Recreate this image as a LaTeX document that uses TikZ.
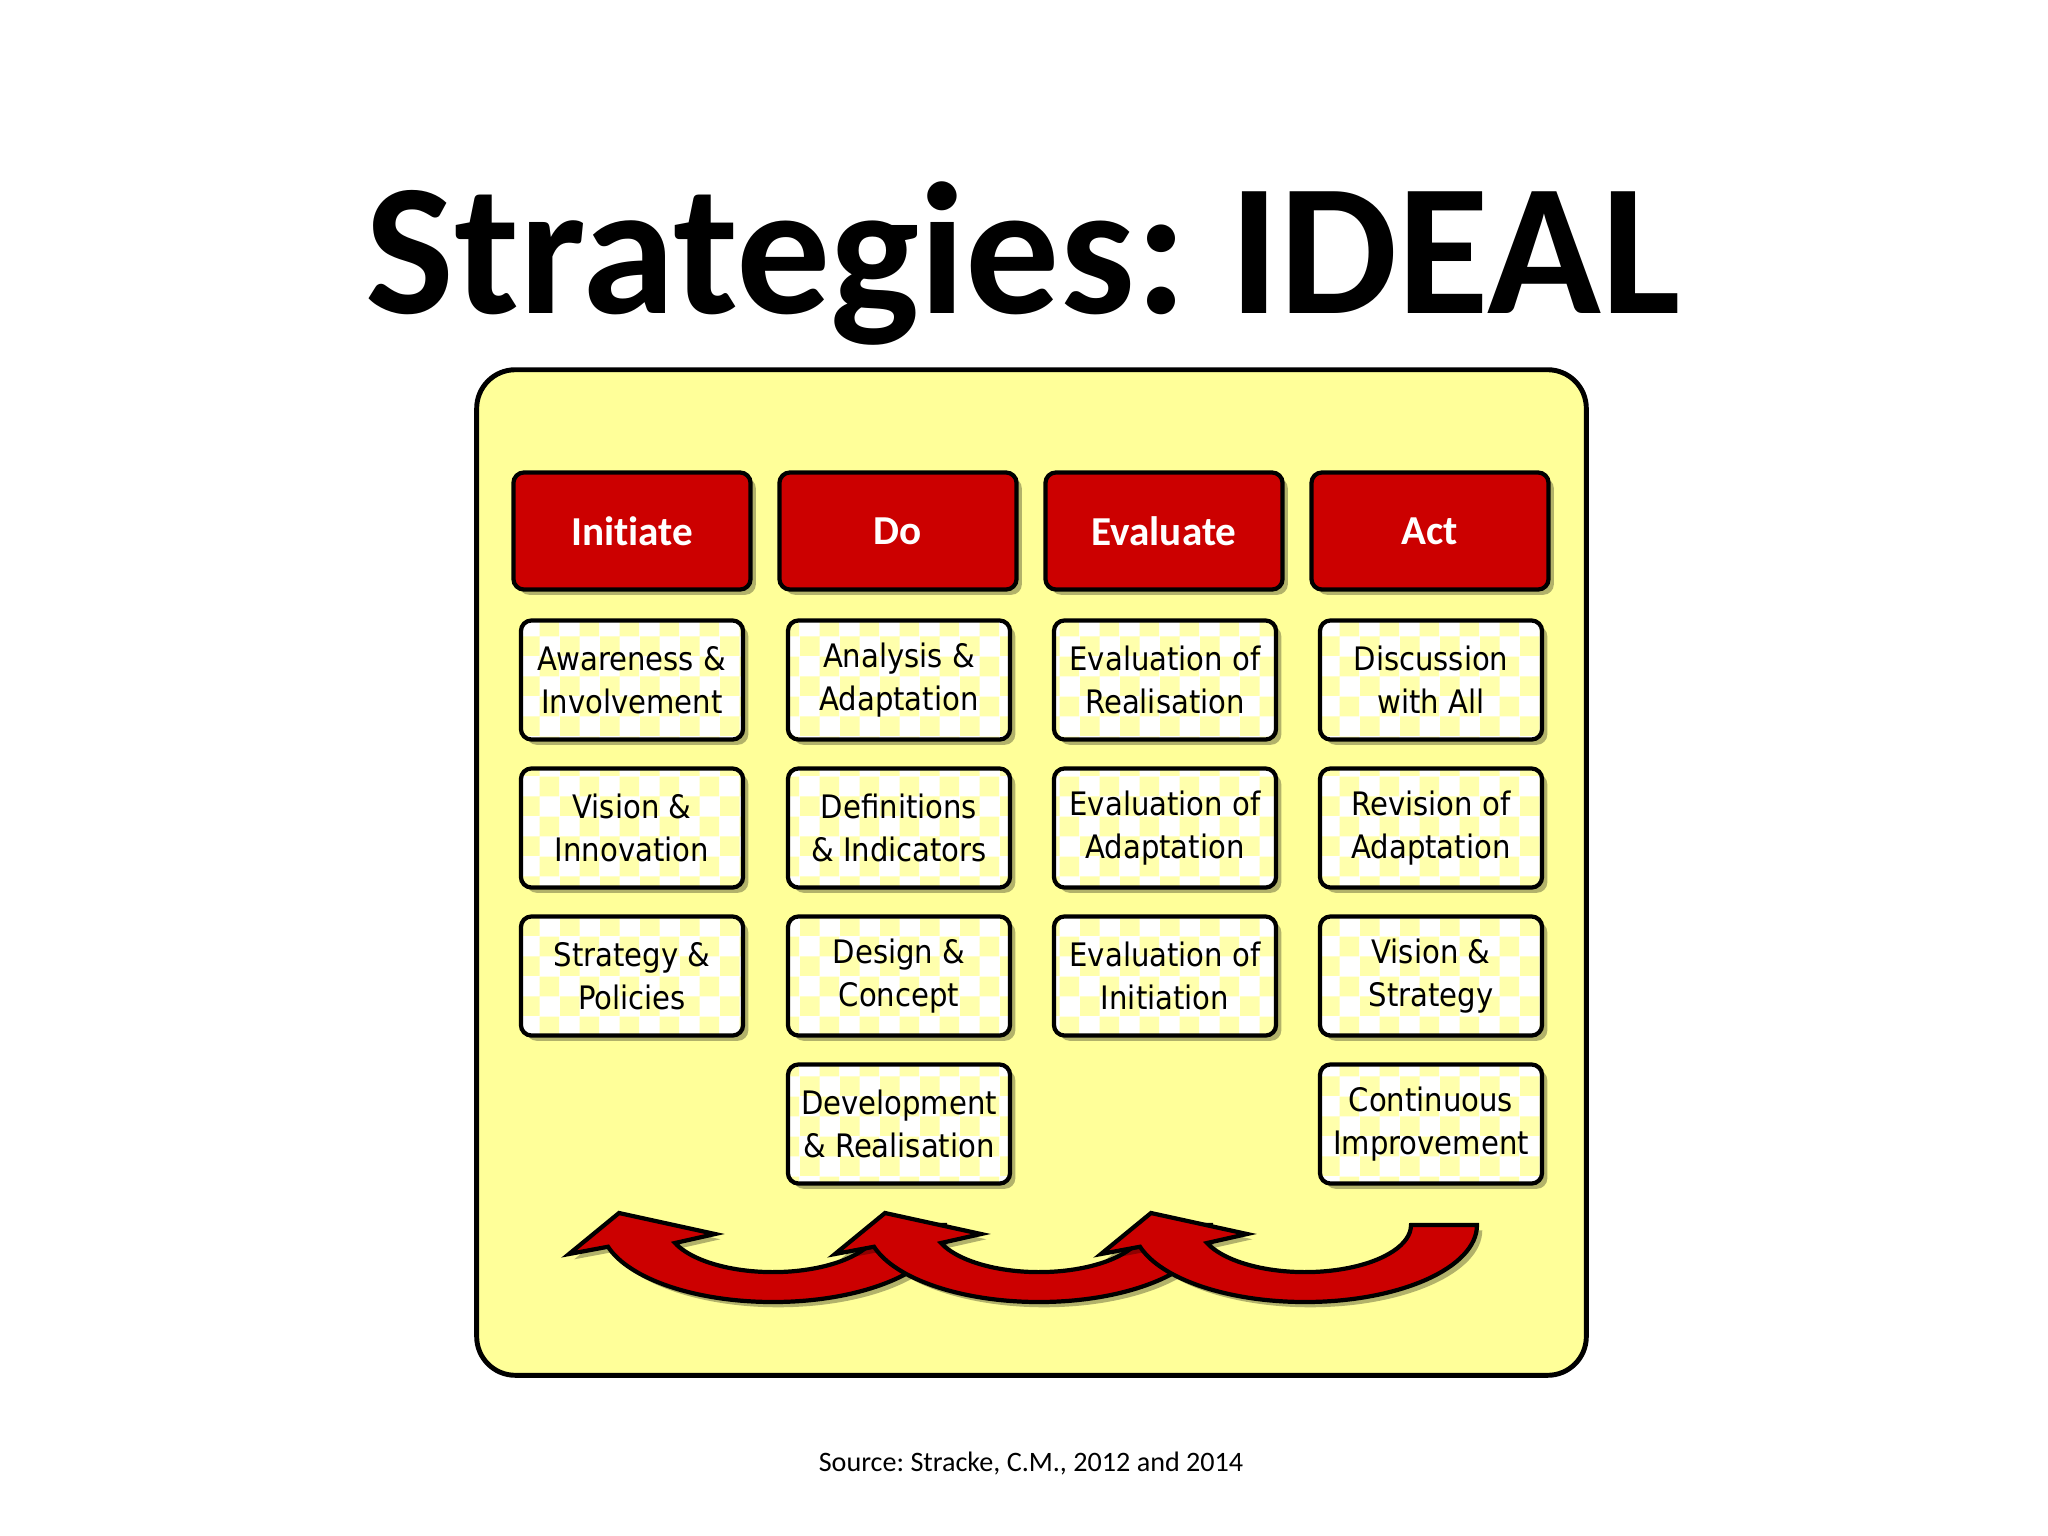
\documentclass[tikz,border=0pt]{standalone}
\usepackage{fontspec}
\setmainfont{Carlito}[Ligatures=NoCommon]
\newfontfamily\boxfont{DejaVu Sans Condensed}
\usetikzlibrary{shadows,patterns}
\definecolor{panelyellow}{RGB}{255,255,153}
\definecolor{checkyellow}{RGB}{255,255,172}
\definecolor{hdrred}{RGB}{204,0,0}
\tikzset{
  softshadow/.style={drop shadow={shadow xshift=1.5pt, shadow yshift=-1.5pt, fill=black, opacity=0.3}},
  panel/.style={draw=black, line width=1.4pt, fill=panelyellow, rounded corners=11pt,
    minimum width=11.09cm, minimum height=10.05cm, inner sep=0pt},
  hdr/.style={draw=black, line width=1.2pt, fill=hdrred, rounded corners=3pt, softshadow,
    minimum width=2.37cm, minimum height=1.17cm, inner sep=0pt, text=white,
    font=\bfseries\fontsize{11.7}{14}\selectfont},
  item/.style={draw=black, line width=1.2pt, rounded corners=3pt, softshadow,
    preaction={fill=white}, pattern=checkerboard, pattern color=checkyellow,
    minimum width=2.22cm, minimum height=1.19cm, inner sep=0pt, align=center,
    font=\boxfont\fontsize{9.2}{12.2}\selectfont},
  arrowshape/.style={fill=hdrred, draw=black, line width=1.2pt, softshadow},
  curvarrow/.pic={
    \path[arrowshape] (172,0) arc[start angle=0, end angle=163.6, x radius=172, y radius=77]
      -- (-204,29) -- (-154,-12) -- (-58,9) -- (-98,18)
      arc[start angle=157.6, end angle=0, x radius=106, y radius=47] -- cycle;
  }
}
\begin{document}
\frenchspacing
\begin{tikzpicture}[x=0.01cm, y=-0.01cm]
\fill[white] (0,0) rectangle (2048,1536);
\useasboundingbox (0,0) rectangle (2048,1536);

\node[font=\bfseries\fontsize{53.4}{60}\selectfont, anchor=base] (title) at (1023,313) {Strategies: IDEAL};

\node[panel] (panel) at (1031.5,872.5) {};

\node[hdr] (h1) at (632,531) {Initiate};
\node[hdr] (h2) at (898,531) {Do};
\node[hdr] (h3) at (1164,531) {Evaluate};
\node[hdr] (h4) at (1430,531) {Act};

\node[item] (i1) at (632,680) {Awareness \&\\Involvement};
\node[item] (i2) at (632,828) {Vision \&\\Innovation};
\node[item] (i3) at (632,976) {Strategy \&\\Policies};

\node[item] (d1) at (899,680) {Analysis \&\\Adaptation};
\node[item] (d2) at (899,828) {Definitions\\\& Indicators};
\node[item] (d3) at (899,976) {Design \&\\Concept};
\node[item] (d4) at (899,1124) {Development\\\& Realisation};

\node[item] (e1) at (1165,680) {Evaluation of\\Realisation};
\node[item] (e2) at (1165,828) {Evaluation of\\Adaptation};
\node[item] (e3) at (1165,976) {Evaluation of\\Initiation};

\node[item] (a1) at (1431,680) {Discussion\\with All};
\node[item] (a2) at (1431,828) {Revision of\\Adaptation};
\node[item] (a3) at (1431,976) {Vision \&\\Strategy};
\node[item] (a4) at (1431,1124) {Continuous\\Improvement};

\pic at (773,1225) {curvarrow};
\pic at (1039,1225) {curvarrow};
\pic at (1305,1225) {curvarrow};

\node[font=\fontsize{8}{10}\selectfont, anchor=base] (src) at (1031,1471) {Source: Stracke, C.M., 2012 and 2014};
\end{tikzpicture}
\end{document}
